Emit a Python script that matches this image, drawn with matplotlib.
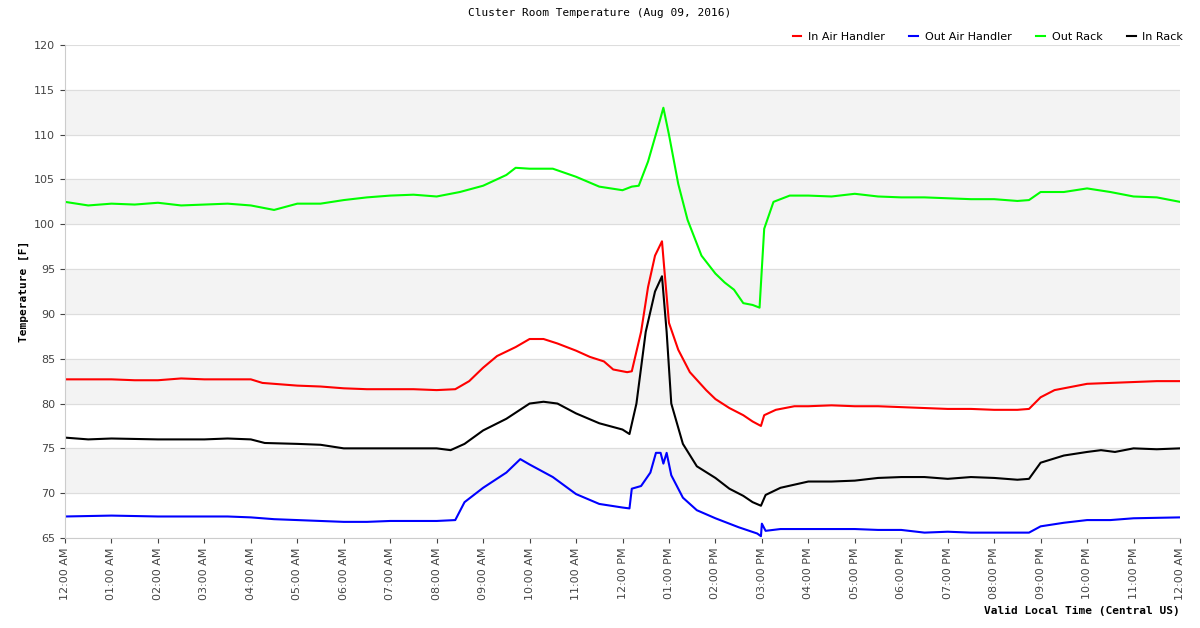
import matplotlib
matplotlib.use("Agg")
import matplotlib.pyplot as plt
import matplotlib.dates as mdates
import pandas as pd

# hours since midnight, value (F)
red_t = [0, 0.5, 1, 1.5, 2, 2.5, 3, 3.5, 4, 4.25, 4.5, 5, 5.5, 6, 6.5, 7, 7.5, 8, 8.4, 8.7, 9, 9.3, 9.7, 10, 10.3, 10.6, 11, 11.3, 11.6, 11.8, 12.1, 12.2, 12.4, 12.55, 12.7, 12.85, 12.9, 13.0, 13.2, 13.45, 13.8, 14, 14.3, 14.6, 14.8, 14.98, 15.05, 15.3, 15.7, 16, 16.5, 17, 17.5, 18, 18.5, 19, 19.5, 20, 20.5, 20.75, 21, 21.3, 21.7, 22, 22.5, 23, 23.5, 24]
red_v = [82.7, 82.7, 82.7, 82.6, 82.6, 82.8, 82.7, 82.7, 82.7, 82.3, 82.2, 82.0, 81.9, 81.7, 81.6, 81.6, 81.6, 81.5, 81.6, 82.5, 84.0, 85.3, 86.3, 87.2, 87.2, 86.7, 85.9, 85.2, 84.7, 83.8, 83.5, 83.6, 88, 93, 96.5, 98.1, 95, 89, 86, 83.5, 81.5, 80.5, 79.5, 78.7, 78.0, 77.5, 78.7, 79.3, 79.7, 79.7, 79.8, 79.7, 79.7, 79.6, 79.5, 79.4, 79.4, 79.3, 79.3, 79.4, 80.7, 81.5, 81.9, 82.2, 82.3, 82.4, 82.5, 82.5]

green_t = [0, 0.5, 1, 1.5, 2, 2.5, 3, 3.5, 4, 4.5, 5, 5.5, 6, 6.5, 7, 7.5, 8, 8.5, 9, 9.5, 9.7, 10, 10.5, 11, 11.5, 12, 12.2, 12.35, 12.55, 12.8, 12.88, 13.0, 13.2, 13.4, 13.7, 14.0, 14.2, 14.4, 14.6, 14.8, 14.95, 15.05, 15.25, 15.6, 16, 16.5, 17, 17.5, 18, 18.5, 19, 19.5, 20, 20.5, 20.75, 21, 21.5, 22, 22.5, 23, 23.5, 24]
green_v = [102.5, 102.1, 102.3, 102.2, 102.4, 102.1, 102.2, 102.3, 102.1, 101.6, 102.3, 102.3, 102.7, 103.0, 103.2, 103.3, 103.1, 103.6, 104.3, 105.5, 106.3, 106.2, 106.2, 105.3, 104.2, 103.8, 104.2, 104.3, 107, 111.5, 113.0, 110, 104.5, 100.5, 96.5, 94.5, 93.5, 92.7, 91.2, 91.0, 90.7, 99.5, 102.5, 103.2, 103.2, 103.1, 103.4, 103.1, 103.0, 103.0, 102.9, 102.8, 102.8, 102.6, 102.7, 103.6, 103.6, 104.0, 103.6, 103.1, 103.0, 102.5]

black_t = [0, 0.5, 1, 2, 3, 3.5, 4, 4.3, 5, 5.5, 6, 6.5, 7, 7.5, 8, 8.3, 8.6, 9, 9.5, 10, 10.3, 10.6, 11, 11.5, 12, 12.15, 12.3, 12.5, 12.7, 12.85, 12.95, 13.05, 13.3, 13.6, 14, 14.3, 14.6, 14.8, 14.98, 15.08, 15.4, 16, 16.5, 17, 17.5, 18, 18.5, 19, 19.5, 20, 20.5, 20.75, 21, 21.5, 22, 22.3, 22.6, 23, 23.5, 24]
black_v = [76.2, 76.0, 76.1, 76.0, 76.0, 76.1, 76.0, 75.6, 75.5, 75.4, 75.0, 75.0, 75.0, 75.0, 75.0, 74.8, 75.5, 77.0, 78.3, 80.0, 80.2, 80.0, 78.9, 77.8, 77.1, 76.6, 80, 88, 92.5, 94.2, 88, 80, 75.5, 73.0, 71.7, 70.5, 69.7, 69.0, 68.6, 69.8, 70.6, 71.3, 71.3, 71.4, 71.7, 71.8, 71.8, 71.6, 71.8, 71.7, 71.5, 71.6, 73.4, 74.2, 74.6, 74.8, 74.6, 75.0, 74.9, 75.0]

blue_t = [0, 1, 2, 3, 3.5, 4, 4.5, 5, 5.5, 6, 6.5, 7, 7.5, 8, 8.4, 8.6, 9, 9.5, 9.8, 10, 10.5, 11, 11.5, 12, 12.15, 12.2, 12.4, 12.6, 12.72, 12.82, 12.88, 12.95, 13.05, 13.3, 13.6, 14, 14.5, 14.9, 14.98, 15.0, 15.08, 15.4, 16, 17, 17.5, 18, 18.5, 19, 19.5, 20, 20.5, 20.75, 21, 21.5, 22, 22.5, 23, 24]
blue_v = [67.4, 67.5, 67.4, 67.4, 67.4, 67.3, 67.1, 67.0, 66.9, 66.8, 66.8, 66.9, 66.9, 66.9, 67.0, 69.0, 70.6, 72.3, 73.8, 73.2, 71.8, 69.9, 68.8, 68.4, 68.3, 70.5, 70.8, 72.3, 74.5, 74.5, 73.3, 74.5, 72.0, 69.5, 68.1, 67.2, 66.2, 65.5, 65.2, 66.6, 65.8, 66.0, 66.0, 66.0, 65.9, 65.9, 65.6, 65.7, 65.6, 65.6, 65.6, 65.6, 66.3, 66.7, 67.0, 67.0, 67.2, 67.3]

series = [
    ("In Air Handler", red_t, red_v, "#ff0000"),
    ("Out Air Handler", blue_t, blue_v, "#0000ff"),
    ("Out Rack", green_t, green_v, "#00ff00"),
    ("In Rack", black_t, black_v, "#000000"),
]

day = pd.Timestamp("2016-08-09")
to_dt = lambda hrs: [day + pd.Timedelta(hours=h) for h in hrs]

fig = plt.figure(figsize=(12, 6.28), dpi=100)
ax = fig.add_axes([65 / 1200, 90 / 628, 1115 / 1200, 493 / 628])

# alternating grey bands
for lo in range(70, 120, 10):
    ax.axhspan(lo, lo + 5, color="#f3f3f3", zorder=0)
for y in range(65, 121, 5):
    ax.axhline(y, color="#dddddd", lw=0.8, zorder=0)

for name, t, v, c in series:
    ax.plot(to_dt(t), v, color=c, lw=1.5, label=name)

ax.set_xlim(day, day + pd.Timedelta(hours=24))
ax.set_ylim(65, 120)
ax.set_yticks(range(65, 121, 5))
ax.xaxis.set_major_locator(mdates.HourLocator(interval=1))
ax.xaxis.set_major_formatter(mdates.DateFormatter("%I:%M %p"))
plt.setp(ax.get_xticklabels(), rotation=90)
ax.tick_params(labelsize=8, colors="#444444")
for s in ["top", "right"]:
    ax.spines[s].set_visible(False)
for s in ["left", "bottom"]:
    ax.spines[s].set_color("#cccccc")

mono = "DejaVu Sans Mono"
fig.text(0.5, 1 - 13 / 628, "Cluster Room Temperature (Aug 09, 2016)", ha="center", va="center", family=mono, fontsize=8)
ax.set_ylabel("Temperature [F]", family=mono, fontsize=8, weight="bold")
fig.text(1180 / 1200, 1 - 611 / 628, "Valid Local Time (Central US)", ha="right", va="center", family=mono, fontsize=8, weight="bold")
ax.legend(loc="lower right", bbox_to_anchor=(1.01, 0.99), ncol=4, frameon=False, fontsize=8,
          handlelength=0.8, columnspacing=2.2, handletextpad=0.6, borderpad=0.2)

fig.savefig("out.png", dpi=100)
